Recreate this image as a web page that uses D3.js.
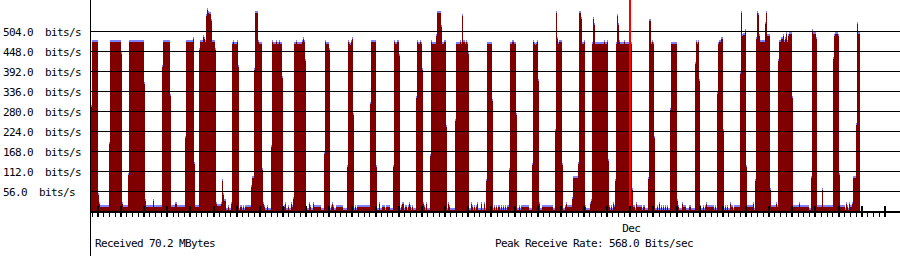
<!DOCTYPE html>
<html>
<head>
<meta charset="utf-8">
<script src="https://cdn.jsdelivr.net/npm/d3@7"></script>
<style>
    body { margin: 0; background: #fff; }
    svg { display: block; }
    text { font-family: "DejaVu Sans Mono", monospace; font-size: 11px; letter-spacing: -0.62px; fill: #000; white-space: pre; }
    .bars rect, .ticks line, .grid line { shape-rendering: crispEdges; }
</style>
</head>
<body>
<svg id="chart" width="900" height="256"></svg>
<script>
// receive rate, bits/s, one sample per column: [value, how many samples in a row]
const rateRuns = [
    [297,1],[480,6],[51,1],[26,1],[17,9],[193,1],[480,11],[446,1],[26,1],[17,5],
    [107,1],[480,15],[361,1],[34,1],[17,7],[34,1],[17,8],[409,1],[480,7],[327,1],
    [17,4],[25,2],[17,8],[210,1],[480,7],[486,1],[137,1],[17,4],[456,1],[480,3],
    [494,1],[488,1],[480,1],[552,1],[568,1],[560,1],[558,2],[537,1],[480,3],[456,1],
    [26,1],[19,4],[26,1],[90,1],[51,1],[34,2],[8,2],[17,1],[8,2],[25,1],
    [474,1],[480,1],[474,3],[480,1],[409,1],[8,1],[17,2],[8,1],[17,1],[8,1],
    [17,6],[73,1],[98,2],[400,1],[560,3],[480,1],[474,3],[120,1],[25,1],[17,1],
    [8,2],[17,1],[8,3],[185,1],[480,1],[474,3],[480,1],[474,2],[480,1],[474,2],
    [378,1],[8,1],[17,1],[25,1],[8,2],[17,1],[8,2],[25,1],[17,1],[40,1],
    [474,2],[480,1],[474,5],[480,1],[486,1],[480,1],[425,1],[8,3],[25,1],[17,1],
    [8,2],[25,1],[17,7],[8,3],[166,1],[480,1],[474,3],[456,1],[8,1],[17,1],
    [25,1],[17,1],[8,2],[17,7],[8,4],[129,1],[480,1],[474,1],[470,1],[480,1],
    [486,1],[275,1],[8,1],[17,1],[8,1],[17,13],[304,1],[480,5],[129,1],[8,2],
    [25,1],[8,2],[17,3],[8,1],[17,4],[8,3],[129,1],[480,1],[474,2],[480,2],
    [439,1],[8,1],[17,1],[25,2],[8,1],[17,2],[8,1],[17,1],[25,1],[17,1],
    [8,1],[17,1],[8,3],[322,1],[480,1],[474,2],[480,1],[474,1],[400,1],[25,1],
    [17,1],[8,1],[25,1],[8,3],[161,1],[480,1],[474,4],[495,1],[560,4],[521,1],
    [474,2],[480,2],[241,1],[8,1],[25,1],[17,1],[8,5],[257,1],[474,4],[480,1],
    [474,1],[551,1],[480,2],[474,1],[480,1],[474,1],[446,1],[8,2],[25,1],[17,1],
    [8,1],[17,1],[8,1],[17,1],[25,1],[8,3],[25,1],[8,2],[25,1],[8,1],
    [90,1],[474,5],[313,1],[8,1],[17,1],[8,1],[17,1],[8,1],[17,2],[8,1],
    [17,1],[8,1],[17,1],[8,1],[17,1],[8,1],[17,2],[120,1],[474,2],[480,2],
    [474,2],[275,1],[8,2],[17,1],[8,1],[17,8],[8,3],[135,1],[480,1],[474,1],
    [470,1],[474,1],[480,1],[369,1],[25,1],[8,2],[17,11],[8,2],[231,1],[560,1],
    [486,1],[474,1],[480,3],[135,1],[8,2],[17,1],[25,1],[17,5],[40,1],[98,5],
    [136,1],[560,2],[542,1],[474,2],[480,1],[17,1],[8,4],[25,1],[34,1],[474,1],
    [542,1],[527,1],[474,9],[480,1],[474,2],[480,1],[145,1],[17,1],[8,1],[17,1],
    [8,1],[25,1],[17,1],[90,1],[474,1],[551,1],[527,1],[480,1],[474,4],[480,1],
    [474,7],[64,1],[17,2],[8,1],[25,1],[17,5],[8,1],[17,2],[8,3],[96,1],
    [537,2],[474,1],[480,1],[474,1],[210,1],[8,2],[17,1],[8,1],[25,1],[8,1],
    [17,1],[8,1],[17,1],[8,1],[17,1],[8,1],[17,1],[8,2],[288,1],[474,6],
    [33,1],[17,1],[8,3],[25,1],[17,3],[8,3],[17,2],[8,4],[416,1],[480,1],
    [474,1],[480,1],[369,1],[17,1],[8,2],[17,1],[8,1],[17,1],[25,1],[17,7],
    [8,1],[17,1],[8,1],[332,1],[474,1],[480,2],[486,2],[231,1],[8,1],[17,1],
    [8,1],[17,1],[8,2],[25,1],[17,2],[8,1],[17,6],[390,1],[560,1],[495,1],
    [499,2],[511,1],[129,1],[17,6],[25,1],[8,1],[89,1],[486,1],[560,1],[553,1],
    [497,1],[480,5],[528,1],[560,1],[497,3],[64,1],[17,5],[25,1],[17,1],[425,1],
    [480,2],[486,2],[497,1],[480,1],[486,1],[500,1],[480,1],[495,1],[500,3],[322,1],
    [17,6],[25,1],[17,9],[8,2],[98,1],[511,1],[500,3],[486,1],[17,5],[64,1],
    [17,10],[430,1],[495,1],[500,3],[495,1],[107,1],[17,5],[8,1],[25,1],[17,1],
    [8,1],[25,1],[17,2],[25,1],[98,3],[247,1],[528,1],[500,2]
];
const yTicks = [56, 112, 168, 224, 280, 336, 392, 448, 504];
const firstSample = new Date(Date.UTC(2009, 10, 7, 17, 28));
const lastDay = new Date(Date.UTC(2009, 11, 12));
const sampleMinutes = 62.2;
const receivedText = 'Received 70.2 MBytes';

const W = 900, H = 256;
const left = 90, base = 211;
const stepMs = sampleMinutes * 60000;

// expand the runs into samples
var samples = [];
rateRuns.forEach(function (r) {
    for (var k = 0; k < r[1]; k++) {
        var i = samples.length;
        samples.push({ t: new Date(+firstSample + i * stepMs), v: r[0] });
    }
});

var x = d3.scaleUtc()
    .domain([firstSample, lastDay])
    .range([left + 1, left + 1 + (lastDay - firstSample) / stepMs]);
var y = d3.scaleLinear().domain([0, 560]).range([base, base - 200]);

var svg = d3.select('#chart');

// bars: blue cap with the dark red area under it
var bars = svg.append('g').attr('class', 'bars');
bars.selectAll('rect.cap').data(samples).enter()
    .append('rect').attr('class', 'cap')
    .attr('x', function (d) { return Math.round(x(d.t)); })
    .attr('width', 1)
    .attr('y', function (d) { return Math.round(y(d.v)); })
    .attr('height', function (d) { return base - Math.round(y(d.v)); })
    .attr('fill', '#8080ff');
bars.selectAll('rect.area').data(samples).enter()
    .append('rect').attr('class', 'area')
    .attr('x', function (d) { return Math.round(x(d.t)); })
    .attr('width', 1)
    .attr('y', function (d) { return Math.round(y(d.v)) + 2; })
    .attr('height', function (d) { return Math.max(0, base - Math.round(y(d.v)) - 2); })
    .attr('fill', '#800000');

// grid lines and labels
var grid = svg.append('g').attr('class', 'grid')
    .attr('transform', 'translate(' + (left + 1) + ',0)')
    .call(d3.axisLeft(y).tickValues(yTicks).tickSize(-(W - left - 1))
        .tickFormat(function (d) { return d.toFixed(1) + '  bits/s'; }));
grid.select('.domain').remove();
grid.selectAll('line').attr('stroke', '#000');
grid.selectAll('text')
    .attr('x', -(left - 2)).attr('dy', null).attr('y', 4)
    .attr('text-anchor', 'start')
    .attr('font-family', null).attr('font-size', null);

// month start line
var monthStarts = d3.utcMonth.range(firstSample, lastDay);
svg.append('g').selectAll('rect').data(monthStarts).enter()
    .append('rect')
    .attr('x', function (d) { return Math.floor(x(d)); })
    .attr('y', 0).attr('width', 2).attr('height', base)
    .attr('fill', '#ff0000');

// axes
svg.append('rect').attr('x', left).attr('y', 0).attr('width', 1).attr('height', H).attr('fill', '#000');
svg.append('rect').attr('x', left).attr('y', base).attr('width', W - left).attr('height', 2).attr('fill', '#000');

var minor = svg.append('g').attr('class', 'ticks')
    .attr('transform', 'translate(0,' + (base + 2) + ')')
    .call(d3.axisBottom(x).ticks(d3.utcHour.every(6)).tickSize(4).tickFormat(''));
minor.select('.domain').remove();

var major = svg.append('g').attr('class', 'ticks')
    .attr('transform', 'translate(0,' + (base - 5) + ')')
    .call(d3.axisBottom(x).ticks(d3.utcDay.every(1)).tickSize(11).tickFormat(''));
major.select('.domain').remove();
major.selectAll('line').attr('stroke-width', 2);

var months = svg.append('g')
    .attr('transform', 'translate(0,' + (base + 2) + ')')
    .call(d3.axisBottom(x).ticks(d3.utcMonth.every(1)).tickSize(0).tickPadding(11)
        .tickFormat(d3.utcFormat('%b')));
months.select('.domain').remove();
months.selectAll('line').remove();
months.selectAll('text').attr('font-family', null).attr('font-size', null).attr('dx', 1);

// summary
var peak = d3.max(samples, function (d) { return d.v; });
svg.append('text').attr('x', 95).attr('y', 247).text(receivedText);
svg.append('text').attr('x', 495).attr('y', 247)
    .text('Peak Receive Rate: ' + peak.toFixed(1) + ' Bits/sec');
</script>
</body>
</html>
